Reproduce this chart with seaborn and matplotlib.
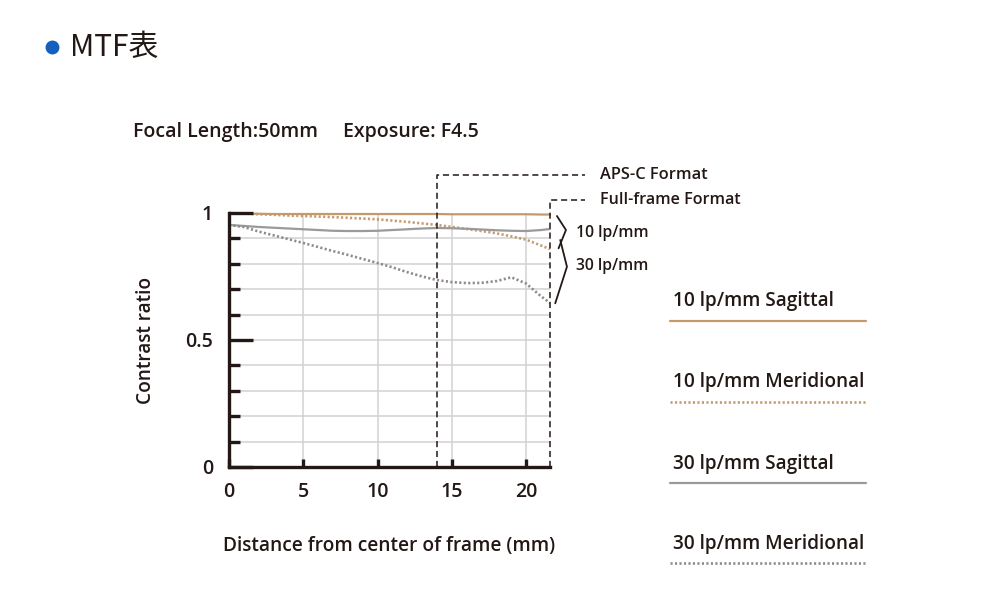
import matplotlib
matplotlib.use("Agg")
import matplotlib.pyplot as plt
from matplotlib.lines import Line2D
import seaborn as sns
import pandas as pd

# ---- data ----
dist = [0, 1, 2, 3, 4, 5, 6, 7, 8, 9, 10, 11, 12, 13, 14, 15, 16, 17, 18, 19, 20, 21, 21.6]
s10 = [0.997, 0.997, 0.997, 0.996, 0.996, 0.996, 0.996, 0.996, 0.996, 0.996, 0.996, 0.996,
       0.996, 0.996, 0.996, 0.995, 0.995, 0.995, 0.995, 0.995, 0.995, 0.994, 0.994]
m10 = [1.000, 0.998, 0.995, 0.993, 0.990, 0.988, 0.986, 0.984, 0.981, 0.978, 0.975, 0.970,
       0.965, 0.959, 0.953, 0.945, 0.937, 0.929, 0.920, 0.908, 0.895, 0.872, 0.858]
s30 = [0.953, 0.949, 0.945, 0.942, 0.939, 0.936, 0.933, 0.930, 0.929, 0.929, 0.930, 0.933,
       0.936, 0.939, 0.941, 0.940, 0.938, 0.935, 0.932, 0.930, 0.929, 0.933, 0.937]
m30 = [0.953, 0.945, 0.927, 0.912, 0.897, 0.882, 0.866, 0.850, 0.835, 0.819, 0.803, 0.786,
       0.767, 0.750, 0.736, 0.728, 0.724, 0.725, 0.732, 0.747, 0.722, 0.672, 0.646]

series_names = ["10 lp/mm Sagittal", "10 lp/mm Meridional", "30 lp/mm Sagittal", "30 lp/mm Meridional"]
x_ticks = [0, 5, 10, 15, 20]
y_ticks = [0, 0.5, 1]
y_ticklabels = ["0", "0.5", "1"]
aps_c = 14
full_frame = 21.6

TAN = "#c49a6c"
GRAY = "#9a9a9a"
DOTGRAY = "#8c8c8c"
INK = "#231815"

sns.set_style("white")
plt.rcParams['font.family'] = ['Open Sans', 'Noto Sans CJK JP', 'DejaVu Sans']
W = "semibold"

fig = plt.figure(figsize=(10, 6.12), dpi=100)
ax = fig.add_axes([0.229, 1 - 467 / 612, 0.321, (467 - 213) / 612])
ax.set_axisbelow(False)

dotted = (0, (0.8, 0.9))
styles = [
    (s10, TAN, "-", 1.6),
    (m10, TAN, dotted, 1.9),
    (s30, GRAY, "-", 1.6),
    (m30, DOTGRAY, dotted, 1.9),
]
for vals, col, ls, lw in styles:
    df = pd.DataFrame({"x": dist, "y": vals})
    sns.lineplot(data=df, x="x", y="y", ax=ax, color=col, linestyle=ls, lw=lw,
                 clip_on=False, zorder=3)

ax.set_xlim(0, 21.6)
ax.set_ylim(0, 1)

# grid
for gx in [5, 10, 15, 20]:
    ax.axvline(gx, color="#d2d2d2", lw=1.1, zorder=1)
for gy in [0.1, 0.2, 0.3, 0.4, 0.5, 0.6, 0.7, 0.8, 0.9]:
    ax.axhline(gy, color="#d2d2d2", lw=1.1, zorder=1)

for s in ["top", "right"]:
    ax.spines[s].set_visible(False)
for s in ["left", "bottom"]:
    ax.spines[s].set_color(INK)
    ax.spines[s].set_linewidth(2.4)
    ax.spines[s].set_zorder(5)
ax.yaxis.set_zorder(4)
ax.xaxis.set_zorder(4)

ax.set_xticks(x_ticks)
ax.set_xticklabels([str(t) for t in x_ticks])
ax.set_yticks(y_ticks)
ax.set_yticklabels(y_ticklabels)
ax.set_yticks([0.1, 0.2, 0.3, 0.4, 0.6, 0.7, 0.8, 0.9], minor=True)
ax.tick_params(axis="y", which="both", left=True)
ax.tick_params(axis="x", which="both", bottom=True)
ax.tick_params(axis="y", which="major", direction="in", length=17, width=2.4,
               color=INK, labelsize=14, pad=11.5)
ax.tick_params(axis="y", which="minor", direction="in", length=8, width=2.4, color=INK)
ax.tick_params(axis="x", which="major", direction="in", length=6, width=2.4,
               color=INK, labelsize=14, pad=11)
for lab in ax.get_xticklabels() + ax.get_yticklabels():
    lab.set_fontweight(W)
    lab.set_color(INK)

ax.set_xlabel("Distance from center of frame (mm)", fontsize=13.8, fontweight=W,
              color=INK, labelpad=24)
ax.set_ylabel("Contrast ratio", fontsize=13.7, fontweight=W, color=INK, labelpad=21)

# format boundary lines
dash = dict(color=INK, lw=1.1, linestyle=(0, (4, 2.5)), clip_on=False, zorder=4)
y_aps = (467 - 175) / 254
y_ff = (467 - 200) / 254
x_end = (585 - 229) / 14.85
ax.plot([aps_c, aps_c, x_end], [0, y_aps, y_aps], **dash)
ax.plot([full_frame, full_frame, x_end], [0, y_ff, y_ff], **dash)
ax.text(x_end + 1.0, y_aps, "APS-C Format", fontsize=11.8, fontweight=W,
        va="center", ha="left", color=INK)
ax.text(x_end + 1.0, y_ff, "Full-frame Format", fontsize=11.6, fontweight=W,
        va="center", ha="left", color=INK)

# brackets
def px(xp, yp):
    return (xp - 229) / 14.85, (467 - yp) / 254

b1 = [px(556.7, 216), px(565.7, 230), px(558.3, 248.3)]
b2 = [px(560, 240), px(566.7, 266.7), px(555, 303.3)]
for b in (b1, b2):
    ax.plot([p[0] for p in b], [p[1] for p in b], color=INK, lw=1.3, clip_on=False)
tx, ty1 = px(576, 233)
_, ty2 = px(576, 266)
ax.text(tx, ty1, "10 lp/mm", fontsize=11.3, fontweight=W, va="center", color=INK)
ax.text(tx, ty2, "30 lp/mm", fontsize=11.3, fontweight=W, va="center", color=INK)

# legend on the right
leg_text_y = [301, 382, 464, 544]
leg_line_y = [321, 402, 483, 563]
leg_cols = [TAN, TAN, GRAY, DOTGRAY]
leg_ls = ["-", dotted, "-", dotted]
leg_lw = [1.6, 1.9, 1.6, 1.9]
for name, ty, ly, c, ls, lw in zip(series_names, leg_text_y, leg_line_y, leg_cols, leg_ls, leg_lw):
    fig.text(673 / 1000, 1 - ty / 612, name, fontsize=13.7, fontweight=W,
             va="center", ha="left", color=INK)
    fig.add_artist(Line2D([670 / 1000, 866 / 1000], [1 - ly / 612, 1 - ly / 612],
                          transform=fig.transFigure, color=c, linestyle=ls, lw=lw))

# header
fig.text(133 / 1000, 1 - 132 / 612, "Focal Length:50mm", fontsize=14,
         fontweight=W, va="center", ha="left", color=INK)
fig.text(343 / 1000, 1 - 132 / 612, "Exposure: F4.5", fontsize=14,
         fontweight=W, va="center", ha="left", color=INK)
fig.add_artist(Line2D([52 / 1000], [1 - 47 / 612], transform=fig.transFigure, marker="o",
                      markersize=9, color="#1560bd", linestyle="none"))
fig.text(70 / 1000, 1 - 47 / 612, "MTF表", fontsize=21.5,
         family=['Noto Sans CJK JP', 'DejaVu Sans'], va="center", ha="left", color=INK)

fig.savefig("out.png", dpi=100, facecolor="white")
